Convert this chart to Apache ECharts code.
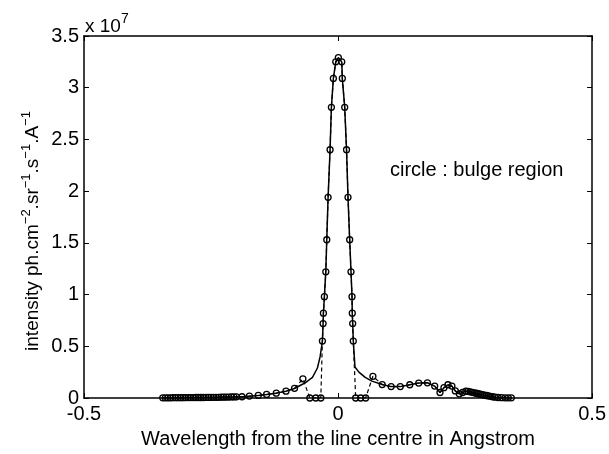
<!DOCTYPE html>
<html><head><meta charset="utf-8">
<script src="https://cdn.jsdelivr.net/npm/echarts@6/dist/echarts.min.js"></script>
<style>html,body{margin:0;padding:0;background:#fff}#c{width:609px;height:454px}</style>
</head><body><div id="c"></div>
<script>
// Wavelength offsets (Angstrom) and intensities (units of 1e7)
const obsX = [-0.345,-0.340,-0.335,-0.330,-0.325,-0.320,-0.315,-0.310,-0.305,-0.300,-0.295,-0.290,-0.285,-0.280,-0.275,-0.270,-0.265,-0.260,-0.255,-0.250,-0.245,-0.240,-0.235,-0.230,-0.225,-0.220,-0.215,-0.210,-0.205,-0.200,
  -0.189,-0.1745,-0.157,-0.1406,-0.1216,-0.1025,-0.0857,-0.0692,-0.0555,-0.0437,-0.0339,
  -0.0308,-0.0294,-0.0288,-0.0269,-0.0241,-0.0222,-0.0196,-0.0157,-0.0131,-0.0092,-0.0045,0.0006,
  0.0073,0.0084,0.0131,0.0167,0.0196,0.0229,0.0255,0.0275,0.0280,0.0288,0.0300,
  0.0347,0.0445,0.0543,0.0686,0.0869,0.1045,0.1225,0.1412,0.1588,0.1759,0.1902,0.2006,0.2084,0.2163,0.2241,0.2308,0.2386,0.2451,0.2516,
  0.256,0.260,0.264,0.268,0.272,0.276,0.280,0.284,0.288,0.292,0.296,0.300,0.304,0.309,0.315,0.322,0.329,0.335,0.341];
const obsY = [0.002,0.002,0.002,0.002,0.003,0.003,0.003,0.003,0.003,0.004,0.004,0.004,0.004,0.005,0.005,0.005,0.005,0.006,0.006,0.006,0.007,0.007,0.007,0.008,0.008,0.009,0.009,0.010,0.010,0.011,
  0.012,0.019,0.025,0.035,0.047,0.066,0.094,0.185,0,0,0,
  0.55,0.72,0.82,0.98,1.22,1.53,1.94,2.40,2.81,3.09,3.25,3.29,
  3.25,3.09,2.81,2.40,1.94,1.53,1.22,0.98,0.82,0.72,0.55,
  0,0,0,0.21,0.13,0.11,0.11,0.128,0.144,0.147,0.115,0.053,0.10,0.128,0.115,0.068,0.04,0.053,0.066,
  0.064,0.060,0.055,0.050,0.046,0.041,0.037,0.032,0.028,0.024,0.020,0.016,0.012,0.008,0.005,0.003,0.002,0.002,0.002];

const fitX = [-0.345,-0.32,-0.30,-0.28,-0.26,-0.24,-0.22,-0.20,-0.189,-0.1745,-0.157,-0.1406,-0.1216,-0.1025,-0.0857,-0.0692,-0.0647,-0.0504,-0.0406,-0.0353,
  -0.0308,-0.0294,-0.0288,-0.0269,-0.0241,-0.0222,-0.0196,-0.0157,-0.0131,-0.0092,-0.0045,0.0006,
  0.0073,0.0084,0.0131,0.0167,0.0196,0.0229,0.0255,0.0275,0.0280,0.0288,0.0300,
  0.0333,0.041,0.0535,0.0667,0.0869,0.1045,0.1225,0.1412,0.1588,0.1759,0.1902,0.2006,0.2084,0.2163,0.2241,0.2308,0.2386,0.2451,0.2516,
  0.260,0.268,0.276,0.284,0.292,0.300,0.309,0.322,0.335,0.341];
const fitY = [0.002,0.003,0.004,0.005,0.006,0.007,0.009,0.011,0.013,0.018,0.025,0.034,0.047,0.066,0.092,0.135,0.147,0.20,0.29,0.40,
  0.55,0.72,0.82,0.98,1.22,1.53,1.94,2.40,2.81,3.09,3.25,3.29,
  3.25,3.09,2.81,2.40,1.94,1.53,1.22,0.98,0.82,0.72,0.55,
  0.30,0.25,0.20,0.163,0.13,0.11,0.11,0.128,0.144,0.147,0.115,0.053,0.10,0.128,0.115,0.068,0.04,0.053,0.066,
  0.060,0.050,0.041,0.032,0.024,0.016,0.008,0.003,0.002,0.002];

const xTickVals = [-0.5, 0, 0.5];
const yTickVals = [0, 0.5, 1, 1.5, 2, 2.5, 3, 3.5];

const FONT = 'Liberation Sans, Arial, Helvetica, sans-serif';
const chart = echarts.init(document.getElementById('c'), null, {renderer: 'canvas'});
const axisCommon = () => ({
  axisLine: {show: true, onZero: false, lineStyle: {color: '#000', width: 1.5}},
  axisTick: {show: true, inside: true, length: 5, lineStyle: {color: '#000', width: 1}},
  splitLine: {show: false}
});
chart.setOption({
  animation: false,
  backgroundColor: '#fff',
  grid: {left: 84, right: 15, top: 36, bottom: 45, containLabel: false},
  xAxis: [
    Object.assign({type: 'value', min: xTickVals[0], max: xTickVals[xTickVals.length-1], interval: 0.5, position: 'bottom',
      axisLabel: {color: '#000', fontFamily: FONT, fontSize: 20, margin: 6},
      name: 'Wavelength from the line centre in Angstrom', nameLocation: 'middle', nameGap: 31,
      nameTextStyle: {color: '#000', fontFamily: FONT, fontSize: 20}}, axisCommon()),
    Object.assign({type: 'value', min: -0.5, max: 0.5, interval: 0.5, position: 'top', axisLabel: {show: false}}, axisCommon())
  ],
  yAxis: [
    Object.assign({type: 'value', min: yTickVals[0], max: yTickVals[yTickVals.length-1], interval: 0.5, position: 'left',
      axisLabel: {color: '#000', fontFamily: FONT, fontSize: 20, margin: 5}}, axisCommon()),
    Object.assign({type: 'value', min: 0, max: 3.5, interval: 0.5, position: 'right', axisLabel: {show: false}}, axisCommon())
  ],
  graphic: [
    {type: 'text', x: 31, y: 231, rotation: Math.PI / 2, style: {
      text: '{b|intensity ph.cm}{s|\u22122}{b|.sr}{s|\u22121}{b|.s}{s|\u22121}{b|.A}{s|\u22121}',
      align: 'center', verticalAlign: 'middle',
      rich: {
        b: {fill: '#000', fontFamily: FONT, fontSize: 19, lineHeight: 22, verticalAlign: 'bottom'},
        s: {fill: '#000', fontFamily: FONT, fontSize: 13, lineHeight: 22, verticalAlign: 'top'}
      }}},
    {type: 'text', left: 85, top: 12, style: {
      text: '{b|x 10}{s|7}',
      rich: {
        b: {fill: '#000', fontFamily: FONT, fontSize: 19, lineHeight: 24, verticalAlign: 'bottom'},
        s: {fill: '#000', fontFamily: FONT, fontSize: 14, lineHeight: 24, verticalAlign: 'top'}
      }}},
    {type: 'text', left: 390, top: 160, style: {text: 'circle : bulge region', fill: '#000', fontFamily: FONT, fontSize: 20}}
  ],
  series: [
    {type: 'line', name: 'fit', data: fitX.map((x, i) => [x, fitY[i]]), showSymbol: false, symbol: 'none',
      lineStyle: {color: '#000', width: 1.5}, z: 2},
    {type: 'line', name: 'bulge', data: obsX.map((x, i) => [x, obsY[i]]), symbol: 'circle', symbolSize: 6,
      showSymbol: true, showAllSymbol: true,
      itemStyle: {color: 'rgba(0,0,0,0)', borderColor: '#000', borderWidth: 1.3},
      lineStyle: {color: '#000', width: 1.2, type: [4, 3]}, z: 3}
  ]
});
</script></body></html>
